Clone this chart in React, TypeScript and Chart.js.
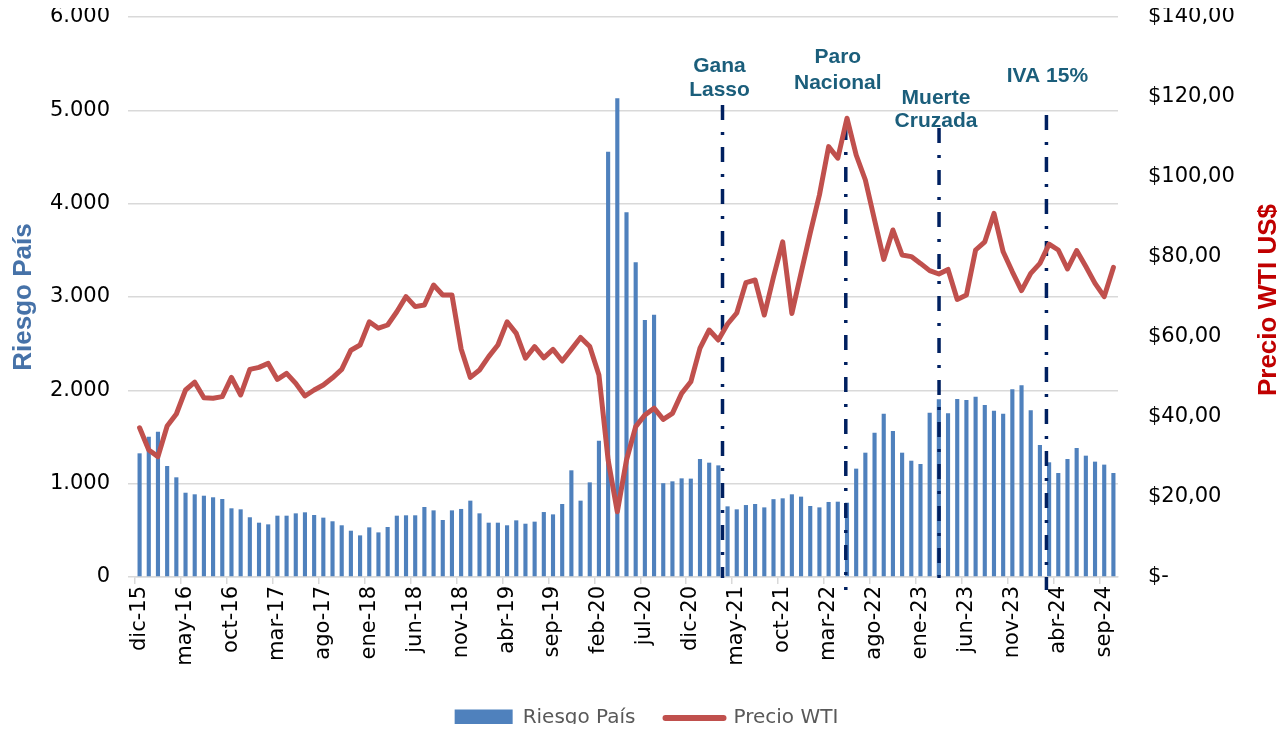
import React, { useEffect, useRef } from 'react';
import { Chart, registerables } from 'chart.js';

Chart.register(...registerables);

// ---------- DATA ----------
const months: string[] = [
  'dic-15',
  'ene-16', 'feb-16', 'mar-16', 'abr-16', 'may-16', 'jun-16', 'jul-16', 'ago-16', 'sep-16', 'oct-16', 'nov-16', 'dic-16',
  'ene-17', 'feb-17', 'mar-17', 'abr-17', 'may-17', 'jun-17', 'jul-17', 'ago-17', 'sep-17', 'oct-17', 'nov-17', 'dic-17',
  'ene-18', 'feb-18', 'mar-18', 'abr-18', 'may-18', 'jun-18', 'jul-18', 'ago-18', 'sep-18', 'oct-18', 'nov-18', 'dic-18',
  'ene-19', 'feb-19', 'mar-19', 'abr-19', 'may-19', 'jun-19', 'jul-19', 'ago-19', 'sep-19', 'oct-19', 'nov-19', 'dic-19',
  'ene-20', 'feb-20', 'mar-20', 'abr-20', 'may-20', 'jun-20', 'jul-20', 'ago-20', 'sep-20', 'oct-20', 'nov-20', 'dic-20',
  'ene-21', 'feb-21', 'mar-21', 'abr-21', 'may-21', 'jun-21', 'jul-21', 'ago-21', 'sep-21', 'oct-21', 'nov-21', 'dic-21',
  'ene-22', 'feb-22', 'mar-22', 'abr-22', 'may-22', 'jun-22', 'jul-22', 'ago-22', 'sep-22', 'oct-22', 'nov-22', 'dic-22',
  'ene-23', 'feb-23', 'mar-23', 'abr-23', 'may-23', 'jun-23', 'jul-23', 'ago-23', 'sep-23', 'oct-23', 'nov-23', 'dic-23',
  'ene-24', 'feb-24', 'mar-24', 'abr-24', 'may-24', 'jun-24', 'jul-24', 'ago-24', 'sep-24', 'oct-24',
];

const riesgoPais: number[] = [
  1325, 1503, 1557, 1189, 1068, 903, 886, 871, 854, 836,
  736, 725, 640, 582, 564, 657, 657, 682, 693, 664,
  636, 597, 554, 496, 446, 532, 478, 536, 657, 661,
  661, 750, 714, 611, 714, 729, 818, 682, 582, 582,
  554, 607, 571, 593, 696, 671, 782, 1143, 818, 1014,
  1459, 4557, 5129, 3907, 3372, 2754, 2811, 1005, 1025, 1057,
  1054, 1264, 1225, 1196, 757, 725, 771, 782, 746, 834,
  843, 886, 861, 761, 746, 804, 807, 796, 1161, 1332,
  1546, 1750, 1564, 1332, 1246, 1211, 1761, 1904, 1754, 1907,
  1896, 1932, 1843, 1782, 1750, 2011, 2054, 1786, 1414, 1229,
  1114, 1264, 1382, 1300, 1236, 1204, 1114,
];

const precioWTI: number[] = [
  37.3, 31.75, 30.1, 37.75, 40.75, 46.75, 48.7, 44.8, 44.7, 45.1,
  49.9, 45.5, 51.9, 52.4, 53.4, 49.4, 50.9, 48.4, 45.25, 46.75,
  48.0, 49.8, 51.9, 56.7, 58.0, 63.8, 62.2, 63.0, 66.3, 70.1,
  67.6, 68.0, 73.0, 70.5, 70.5, 57.0, 49.9, 51.75, 55.1, 58.0,
  63.8, 60.9, 54.7, 57.6, 54.8, 56.9, 54.0, 56.9, 59.9, 57.6,
  50.5, 29.25, 16.3, 29.25, 37.6, 40.5, 42.2, 39.4, 40.9, 45.9,
  48.8, 57.2, 61.75, 59.25, 63.25, 66.0, 73.6, 74.25, 65.5, 75.0,
  83.8, 65.9, 76.0, 86.0, 95.5, 107.6, 104.7, 114.7, 105.5, 99.25,
  89.25, 79.4, 86.75, 80.5, 80.1, 78.4, 76.6, 75.75, 76.9, 69.4,
  70.5, 81.75, 83.8, 90.9, 81.3, 76.3, 71.6, 75.9, 78.4, 83.2,
  81.75, 77.0, 81.6, 77.6, 73.4, 70.1, 77.4,
];

// Event markers: position in category units (index of month), label lines
const eventPositions: number[] = [63.45, 76.87, 87.02, 98.71];
const eventLabels: string[][] = [['Gana', 'Lasso'], ['Paro', 'Nacional'], ['Muerte', 'Cruzada'], ['IVA 15%']];

// ---------- LAYOUT / STYLE ----------
const EVENT_LINE_TOP = [97, 117, 120, 107];
const EVENT_LINE_BOTTOM = [570, 582, 577, 582];
const EVENT_TEXT_DX = [-3, -8, -3, 1];
const EVENT_TEXT_BASELINES = [[64, 88], [55, 81], [96, 119], [74]];

const TICK_FONT = "'DejaVu Sans', Verdana, sans-serif";
const TITLE_FONT = "'Liberation Sans', Arial, sans-serif";
const GRID = '#d9d9d9';

const fmtThousands = (v: number) => String(v).replace(/\B(?=(\d{3})+(?!\d))/g, '.');

const overlayPlugin = {
  id: 'overlay',
  afterLayout(chart: any) {
    if (chart.legend) {
      chart.legend.top += 14;
      chart.legend.bottom += 14;
      chart.legend.left += 4;
      chart.legend.right += 4;
    }
  },
  afterDatasetDraw(chart: any, args: any) {
    if (args.index !== 0) return;
    const x = chart.scales.x;
    const ctx = chart.ctx;
    const p0 = x.getPixelForValue(0);
    const step = x.getPixelForValue(1) - p0;
    ctx.save();
    ctx.strokeStyle = '#002060';
    ctx.lineWidth = 3.5;
    ctx.setLineDash([15, 12, 3, 12]);
    eventPositions.forEach((p, k) => {
      const px = p0 + p * step;
      ctx.beginPath();
      ctx.moveTo(px, EVENT_LINE_TOP[k]);
      ctx.lineTo(px, EVENT_LINE_BOTTOM[k]);
      ctx.stroke();
    });
    ctx.restore();
  },
  afterDraw(chart: any) {
    const x = chart.scales.x;
    const ctx = chart.ctx;
    const p0 = x.getPixelForValue(0);
    const step = x.getPixelForValue(1) - p0;
    ctx.save();
    ctx.fillStyle = '#1B5E7B';
    ctx.font = `bold 21px ${TITLE_FONT}`;
    ctx.textAlign = 'center';
    ctx.textBaseline = 'alphabetic';
    eventPositions.forEach((p, k) => {
      const px = p0 + p * step + EVENT_TEXT_DX[k];
      eventLabels[k].forEach((line, j) => {
        ctx.fillText(line, px, EVENT_TEXT_BASELINES[k][j]);
      });
    });
    ctx.restore();

    // right axis title (reads bottom to top)
    ctx.save();
    ctx.translate(1261, 292);
    ctx.rotate(-Math.PI / 2);
    ctx.font = `bold 26px ${TITLE_FONT}`;
    ctx.fillStyle = '#C00000';
    ctx.textAlign = 'center';
    ctx.textBaseline = 'middle';
    ctx.fillText('Precio WTI US$', 0, 0);
    ctx.restore();
  },
};

export default function App() {
  const canvasRef = useRef<HTMLCanvasElement | null>(null);

  useEffect(() => {
    if (!canvasRef.current) return;
    const chart = new Chart(canvasRef.current, {
      type: 'bar',
      data: {
        labels: months,
        datasets: [
          {
            type: 'bar',
            label: 'Riesgo País',
            data: riesgoPais,
            backgroundColor: '#4F81BD',
            borderWidth: 0,
            barPercentage: 0.45,
            categoryPercentage: 1,
            yAxisID: 'y',
            order: 2,
          },
          {
            type: 'line',
            label: 'Precio WTI',
            data: precioWTI,
            borderColor: '#C0504D',
            backgroundColor: '#C0504D',
            borderWidth: 5,
            pointRadius: 0,
            tension: 0,
            borderJoinStyle: 'round',
            borderCapStyle: 'round',
            yAxisID: 'y1',
            order: 1,
          } as any,
        ],
      },
      options: {
        responsive: true,
        maintainAspectRatio: false,
        animation: false,
        layout: { padding: { top: 9, left: 0, right: 0, bottom: 0 }, autoPadding: false },
        plugins: {
          tooltip: { enabled: false },
          legend: {
            display: true,
            position: 'bottom',
            labels: {
              usePointStyle: true,
              pointStyleWidth: 58,
              boxHeight: 17,
              padding: 30,
              color: '#595959',
              font: { family: TICK_FONT, size: 20 },
              generateLabels: () => [
                {
                  text: 'Riesgo País',
                  fillStyle: '#4F81BD',
                  strokeStyle: '#4F81BD',
                  lineWidth: 0,
                  pointStyle: 'rect',
                  datasetIndex: 0,
                  hidden: false,
                  fontColor: '#595959',
                } as any,
                {
                  text: 'Precio WTI',
                  fillStyle: '#C0504D',
                  strokeStyle: '#C0504D',
                  lineWidth: 6,
                  lineCap: 'round',
                  pointStyle: 'line',
                  datasetIndex: 1,
                  hidden: false,
                  fontColor: '#595959',
                } as any,
              ],
            },
          },
        },
        scales: {
          x: {
            type: 'category',
            offset: true,
            afterFit: (scale: any) => {
              scale.height = 87;
              scale.paddingLeft = 0;
              scale.paddingRight = 0;
            },
            grid: {
              offset: true,
              drawOnChartArea: false,
              drawTicks: true,
              tickLength: 7,
              lineWidth: 1.5,
              color: (c: any) => (typeof c.index === 'number' && c.index % 5 === 0 ? GRID : 'rgba(0,0,0,0)'),
              tickColor: (c: any) => (typeof c.index === 'number' && c.index % 5 === 0 ? GRID : 'rgba(0,0,0,0)'),
            },
            border: { display: true, color: GRID, width: 1.5 },
            ticks: {
              autoSkip: false,
              maxRotation: 90,
              minRotation: 90,
              padding: 2,
              color: '#000',
              font: { family: TICK_FONT, size: 21 },
              callback: (_v: any, i: number) => (i % 5 === 0 ? months[i] : ''),
            },
          },
          y: {
            type: 'linear',
            position: 'left',
            min: 0,
            max: 6000,
            afterFit: (scale: any) => {
              scale.width = 127;
              scale.paddingTop = 0;
              scale.paddingBottom = 0;
            },
            grid: { color: GRID, lineWidth: 1.5, drawTicks: true, tickLength: 7, tickColor: GRID },
            border: { display: false },
            ticks: {
              stepSize: 1000,
              padding: 18,
              color: '#000',
              font: { family: TICK_FONT, size: 21 },
              callback: (v: any) => fmtThousands(Number(v)),
            },
            title: {
              display: true,
              text: 'Riesgo País',
              color: '#4672A8',
              font: { family: TITLE_FONT, size: 26, weight: 'bold' },
              padding: { top: 0, bottom: 0 },
            },
          },
          y1: {
            type: 'linear',
            position: 'right',
            min: 0,
            max: 140,
            afterFit: (scale: any) => {
              scale.width = 159;
              scale.paddingTop = 0;
              scale.paddingBottom = 0;
            },
            grid: { drawOnChartArea: false, drawTicks: false },
            border: { display: false },
            ticks: {
              stepSize: 20,
              padding: 30,
              color: '#000',
              font: { family: TICK_FONT, size: 21 },
              callback: (v: any) => (Number(v) === 0 ? '$-' : '$' + Number(v).toFixed(2).replace('.', ',')),
            },
          },
        },
      } as any,
      plugins: [overlayPlugin],
    });
    return () => chart.destroy();
  }, []);

  return (
    <div style={{ position: 'relative', width: '100%', height: 716 }}>
      <canvas ref={canvasRef} />
    </div>
  );
}
